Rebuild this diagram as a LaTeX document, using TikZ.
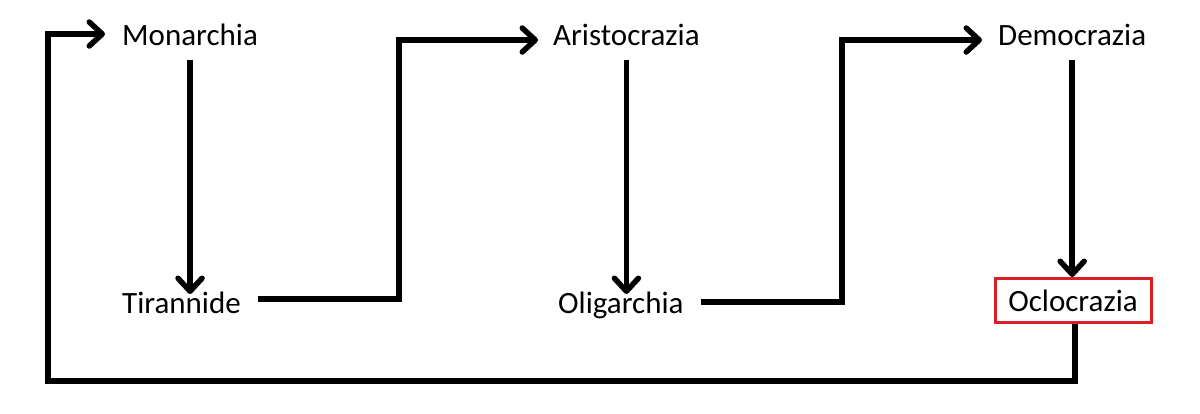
\documentclass[tikz,border=0pt]{standalone}
\usepackage{fontspec}
\setmainfont{Carlito}
\usetikzlibrary{arrows.meta}
\definecolor{boxred}{RGB}{220,30,40}
\begin{document}
\begin{tikzpicture}[x=1pt,y=-1pt,
  lbl/.style={inner sep=0pt,anchor=base west,font=\fontsize{31}{36}\selectfont},
  conn/.style={line width=5.5pt,line join=miter},
  arr/.style={conn,-{Straight Barb[length=13pt,width=24pt,round]}}]
\useasboundingbox (0,0) rectangle (1200,413);
\node[lbl] (mon) at (122,45) {Monarchia};
\node[lbl] (ari) at (553,45) {Aristocrazia};
\node[lbl] (dem) at (998,45) {Democrazia};
\node[lbl] (tir) at (122,313) {Tirannide};
\node[lbl] (oli) at (558,313) {Oligarchia};
\node[draw=boxred,line width=3pt,inner sep=0pt,minimum width=156pt,minimum height=44pt,
  font=\fontsize{31}{36}\selectfont] (ocl) at (1073,300.5) {Oclocrazia};
\coordinate (s1) at (399,299);
\coordinate (s2) at (842,302);
\coordinate (fb1) at (1075,381);
\coordinate (fb2) at (48,381);
% vertical arrows
\draw[arr] ([yshift=-15pt]mon.south) -- ([yshift=-15pt]mon.south |- 0,279);
\draw[arr] ([yshift=-15pt]ari.south) -- ([yshift=-15pt]ari.south |- 0,279);
\draw[arr] ([yshift=-15pt]dem.south) -- (dem.south |- ocl.north);
% steps
\draw[arr] ([xshift=17pt]tir.east |- s1) -- (s1) -- (s1 |- 0,40) -- ([xshift=-15pt]ari.west |- 0,40);
\draw[arr] ([xshift=17pt]oli.east |- s2) -- (s2) -- (s2 |- 0,40) -- ([xshift=-16pt]dem.west |- 0,40);
% feedback
\draw[arr] (ocl.south -| fb1) -- (fb1) -- (fb2) -- (fb2 |- 0,34) -- ([xshift=-17pt]mon.west |- 0,34);
\end{tikzpicture}
\end{document}
